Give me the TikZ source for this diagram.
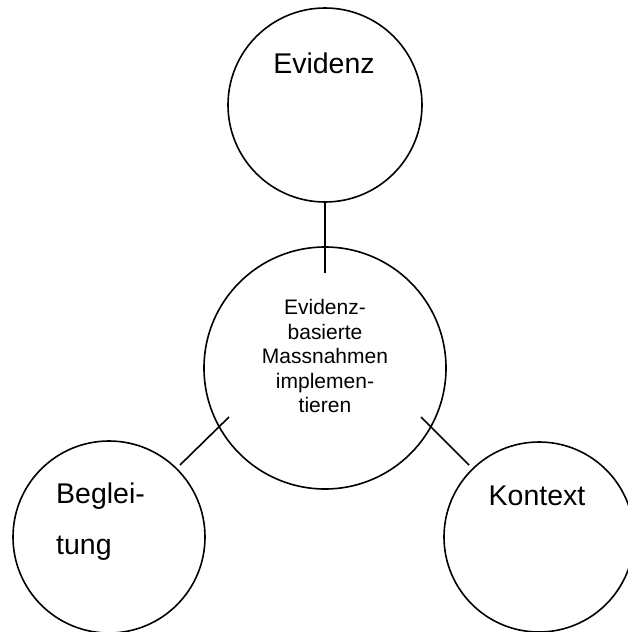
\documentclass[tikz,border=0pt]{standalone}
\usepackage{fontspec}
\setmainfont{Liberation Sans}
\begin{document}
\begin{tikzpicture}[x=1pt,y=-1pt,
  circ/.style={draw=black,line width=1.6pt,circle,inner sep=0pt,minimum size=#1},
  link/.style={draw=black,line width=1.6pt},
  bigtxt/.style={font=\fontsize{28.5}{51}\selectfont,inner sep=0pt},
  smalltxt/.style={font=\fontsize{21}{24.5}\selectfont,inner sep=0pt,align=center}]
\useasboundingbox (0,0) rectangle (627,632);
% circles
\node[circ=194pt] (ev) at (325,105) {};
\node[circ=242pt] (mid) at (325,368) {};
\node[circ=192pt] (bg) at (109,537) {};
\node[circ=190pt] (kx) at (539,537) {};
% texts
\node[bigtxt,anchor=base] (evt) at (324,73) {Evidenz};
\node[bigtxt,anchor=base] (kxt) at (537,505) {Kontext};
\node[bigtxt,anchor=base west] (bgt1) at (56,503) {Beglei-};
\node[bigtxt,anchor=base west] (bgt2) at (56,554) {tung};
\node[smalltxt] (midt) at (325,356) {Evidenz-\\basierte\\Massnahmen\\implemen-\\tieren};
% connectors
\coordinate (topin) at (325,273);
\coordinate (leftin) at (229,417);
\coordinate (leftout) at (180,465);
\coordinate (rightin) at (421,417);
\coordinate (rightout) at (469,465);
\draw[link] (ev.south) -- (topin);
\draw[link] (leftout) -- (leftin);
\draw[link] (rightin) -- (rightout);
\end{tikzpicture}
\end{document}
